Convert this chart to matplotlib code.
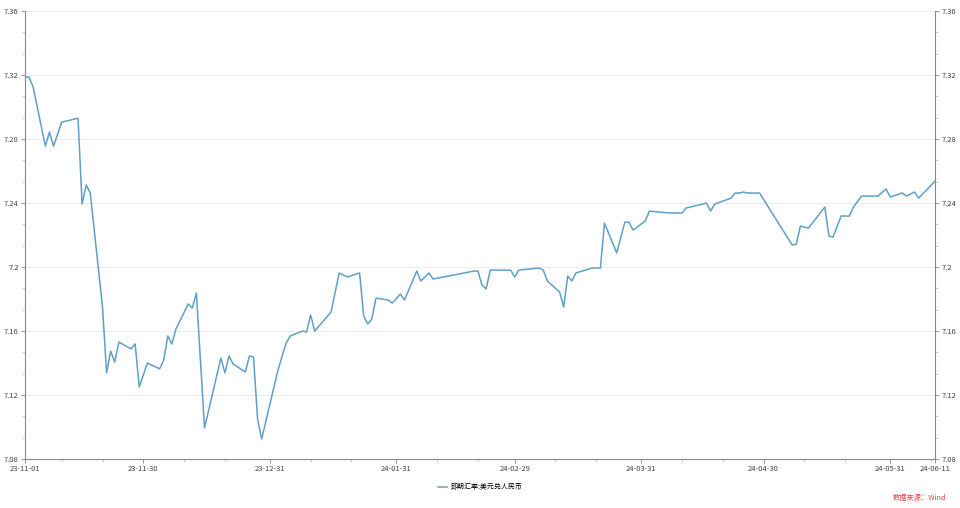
import pandas as pd
import matplotlib
matplotlib.use('Agg')
import matplotlib.pyplot as plt
import matplotlib.dates as mdates
from matplotlib.ticker import FixedLocator, FuncFormatter, AutoMinorLocator

plt.rcParams['font.family'] = ['Noto Sans CJK SC', 'DejaVu Sans']

# 即期汇率:美元兑人民币
dates = ['2023-11-01', '2023-11-02', '2023-11-03', '2023-11-06', '2023-11-07', '2023-11-08',
         '2023-11-10', '2023-11-14', '2023-11-15', '2023-11-16', '2023-11-17', '2023-11-20',
         '2023-11-21', '2023-11-22', '2023-11-23', '2023-11-24', '2023-11-27', '2023-11-28',
         '2023-11-29', '2023-12-01', '2023-12-04', '2023-12-05', '2023-12-06', '2023-12-07',
         '2023-12-08', '2023-12-11', '2023-12-12', '2023-12-13', '2023-12-15', '2023-12-19',
         '2023-12-20', '2023-12-21', '2023-12-22', '2023-12-25', '2023-12-26', '2023-12-27',
         '2023-12-28', '2023-12-29', '2024-01-02', '2024-01-04', '2024-01-05', '2024-01-08',
         '2024-01-09', '2024-01-10', '2024-01-11', '2024-01-15', '2024-01-17', '2024-01-19',
         '2024-01-22', '2024-01-23', '2024-01-24', '2024-01-25', '2024-01-26', '2024-01-29',
         '2024-01-30', '2024-02-01', '2024-02-02', '2024-02-05', '2024-02-06', '2024-02-08',
         '2024-02-09', '2024-02-19', '2024-02-20', '2024-02-21', '2024-02-22', '2024-02-23',
         '2024-02-28', '2024-02-29', '2024-03-01', '2024-03-06', '2024-03-07', '2024-03-08',
         '2024-03-11', '2024-03-12', '2024-03-13', '2024-03-14', '2024-03-15', '2024-03-19',
         '2024-03-21', '2024-03-22', '2024-03-25', '2024-03-27', '2024-03-28', '2024-03-29',
         '2024-04-01', '2024-04-02', '2024-04-07', '2024-04-10', '2024-04-11', '2024-04-16',
         '2024-04-17', '2024-04-18', '2024-04-22', '2024-04-23', '2024-04-24', '2024-04-25',
         '2024-04-26', '2024-04-29', '2024-05-07', '2024-05-08', '2024-05-09', '2024-05-11',
         '2024-05-15', '2024-05-16', '2024-05-17', '2024-05-19', '2024-05-21', '2024-05-22',
         '2024-05-24', '2024-05-25', '2024-05-28', '2024-05-30', '2024-05-31', '2024-06-03',
         '2024-06-04', '2024-06-06', '2024-06-07', '2024-06-11']

rate = [7.3188, 7.3188, 7.3125, 7.2756, 7.2844, 7.2756,
        7.2906, 7.2931, 7.2394, 7.2513, 7.2463, 7.1750,
        7.1338, 7.1475, 7.1406, 7.1531, 7.1488, 7.1519,
        7.1250, 7.1400, 7.1363, 7.1419, 7.1569, 7.1519,
        7.1613, 7.1769, 7.1744, 7.1838, 7.0994, 7.1431,
        7.1338, 7.1444, 7.1394, 7.1344, 7.1444, 7.1438,
        7.1050, 7.0925, 7.1356, 7.1525, 7.1569, 7.1600,
        7.1594, 7.1700, 7.1600, 7.1719, 7.1963, 7.1938,
        7.1963, 7.1694, 7.1644, 7.1675, 7.1806, 7.1794,
        7.1775, 7.1831, 7.1794, 7.1975, 7.1913, 7.1963,
        7.1925, 7.1975, 7.1975, 7.1888, 7.1863, 7.1981,
        7.1981, 7.1938, 7.1981, 7.1994, 7.1981, 7.1913,
        7.1844, 7.1750, 7.1944, 7.1913, 7.1963, 7.1994,
        7.1994, 7.2275, 7.2088, 7.2281, 7.2281, 7.2231,
        7.2288, 7.2350, 7.2338, 7.2338, 7.2369, 7.2400,
        7.2350, 7.2394, 7.2431, 7.2463, 7.2463, 7.2469,
        7.2463, 7.2463, 7.2138, 7.2144, 7.2256, 7.2244,
        7.2375, 7.2194, 7.2188, 7.2319, 7.2319, 7.2375,
        7.2444, 7.2444, 7.2444, 7.2488, 7.2438, 7.2463,
        7.2444, 7.2469, 7.2431, 7.2538]

x_ticks = ['2023-11-01', '2023-11-30', '2023-12-31', '2024-01-31', '2024-02-29',
           '2024-03-31', '2024-04-30', '2024-05-31', '2024-06-11']
y_ticks = [7.08, 7.12, 7.16, 7.2, 7.24, 7.28, 7.32, 7.36]

df = pd.DataFrame({'date': pd.to_datetime(dates), 'rate': rate})

fig = plt.figure(figsize=(9.6, 5.08), dpi=100)
ax = fig.add_axes([0.026, 0.0965, 0.948, 0.8815])

line_color = '#609fc8'
ax.plot(df['date'], df['rate'], color=line_color, lw=1.1, label='即期汇率:美元兑人民币')

ax.set_xlim(pd.Timestamp('2023-11-01'), pd.Timestamp('2024-06-11'))
ax.set_ylim(7.08, 7.36)

ax.xaxis.set_major_locator(FixedLocator(mdates.date2num(pd.to_datetime(x_ticks))))
ax.xaxis.set_major_formatter(mdates.DateFormatter('%y-%m-%d'))
ax.xaxis.set_minor_locator(mdates.DayLocator(bymonthday=[10, 20]))

ax.set_yticks(y_ticks)
ax.yaxis.set_major_formatter(FuncFormatter(lambda v, p: '%g' % round(v, 2)))
ax.yaxis.set_minor_locator(AutoMinorLocator(3))
ax.grid(axis='y', color='#eeeeee', lw=0.7)
ax.set_axisbelow(True)

spine_c = '#888888'
for s in ['left', 'right', 'bottom']:
    ax.spines[s].set_color(spine_c)
    ax.spines[s].set_linewidth(0.8)
ax.spines['top'].set_visible(False)

ax.tick_params(axis='both', which='major', labelsize=5.5, labelcolor='#444444',
               color=spine_c, length=3, width=0.6, pad=1.5)
ax.tick_params(axis='both', which='minor', color='#bbbbbb', length=2, width=0.5)
ax.tick_params(axis='y', which='both', left=True, right=True, labelleft=True, labelright=True)

ax.legend(loc='upper center', bbox_to_anchor=(0.5, -0.04), frameon=False, fontsize=5,
          handlelength=1.3, handletextpad=0.5)

fig.text(0.986, 0.0197, '数据来源：Wind', color='#e8404a', fontsize=5.2, ha='right', va='center')

fig.savefig('out.png', dpi=100)
